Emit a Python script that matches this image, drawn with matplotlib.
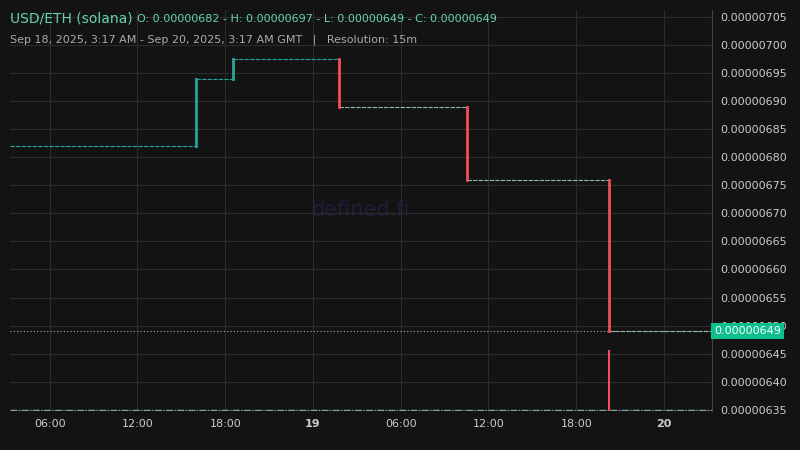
import matplotlib
matplotlib.use('Agg')
import matplotlib.pyplot as plt
import matplotlib.dates as mdates
from datetime import datetime

# step changes (candle times) and price levels
times = ['2025-09-18 03:17', '2025-09-18 16:00', '2025-09-18 18:30', '2025-09-19 01:45',
         '2025-09-19 10:30', '2025-09-19 20:15', '2025-09-20 03:17']
levels = [6.82e-6, 6.94e-6, 6.975e-6, 6.89e-6, 6.76e-6, 6.49e-6, 6.49e-6]
wick_time = '2025-09-19 20:15'
wick_low = 6.455e-6
last_price = 6.49e-6
yticks = [6.35e-6 + i * 0.05e-6 for i in range(15)]

bg = '#131313'
green = '#26a69a'
red = '#f0505a'
t = [datetime.strptime(s, '%Y-%m-%d %H:%M') for s in times]

fig = plt.figure(figsize=(8, 4.5), dpi=100, facecolor=bg)
ax = fig.add_axes([10/800, 39/450, 702/800, 401/450], facecolor=bg)

# flat segments dashed
for i in range(len(t) - 1):
    ax.plot([t[i], t[i+1]], [levels[i], levels[i]], color=green if i < 3 else '#8fb8b0',
            lw=0.8, ls=(0, (4, 1)), zorder=3)
# candles
for i in range(1, len(t) - 1):
    c = green if levels[i] > levels[i-1] else red
    ax.plot([t[i], t[i]], [levels[i-1], levels[i]], color=c, lw=2, zorder=4)
ax.plot([datetime.strptime(wick_time, '%Y-%m-%d %H:%M')] * 2, [6.34e-6, wick_low],
        color=red, lw=1.5, zorder=4)
ax.plot([t[0], t[-1]], [6.35e-6, 6.35e-6], color='#7fa8a0', lw=1, ls=(0, (5, 1, 1, 1)), zorder=3)

ax.axhline(last_price, color='#aaaaaa', lw=0.8, ls=(0, (1, 2)), zorder=2)

ax.set_xlim(t[0], t[-1])
ax.set_ylim(6.348e-6, 7.062e-6)
ax.set_yticks(yticks)
ax.yaxis.tick_right()
ax.set_yticklabels(['%.8f' % v for v in yticks])
ax.xaxis.set_major_locator(mdates.HourLocator(byhour=[0, 6, 12, 18]))
def fmt(x, pos):
    d = mdates.num2date(x)
    return str(d.day) if d.hour == 0 else d.strftime('%H:%M')
ax.xaxis.set_major_formatter(plt.FuncFormatter(fmt))
ax.tick_params(colors='#cccccc', labelsize=8, length=0, pad=6)
ax.grid(color='#2c2c2c', lw=0.8)
for s in ['top', 'left', 'bottom']:
    ax.spines[s].set_visible(False)
ax.spines['right'].set_color('#444444')

fig.canvas.draw()
for lab in ax.get_xticklabels():
    if ':' not in lab.get_text():
        lab.set_fontweight('bold')

ax.text(0.5, 0.5, 'defined.fi', transform=ax.transAxes, color='#1e1e3a', fontsize=15,
        ha='center', va='center', zorder=1)
ax.text(1.003, (last_price - 6.348e-6) / (7.062e-6 - 6.348e-6), '%.8f' % last_price,
        transform=ax.transAxes, color='white', fontsize=8, va='center', ha='left',
        bbox=dict(boxstyle='square,pad=0.25', fc='#0cbf8c', ec='none'), zorder=10)

fig.text(10/800, 1 - 19/450, 'USD/ETH (solana)', color='#66d3b0', fontsize=10, va='center')
fig.text(137/800, 1 - 19/450, 'O: 0.00000682 - H: 0.00000697 - L: 0.00000649 - C: 0.00000649',
         color='#66d3b0', fontsize=8, va='center')
fig.text(10/800, 1 - 40/450, 'Sep 18, 2025, 3:17 AM - Sep 20, 2025, 3:17 AM GMT   |   Resolution: 15m',
         color='#aaaaaa', fontsize=8, va='center')

fig.savefig('out.png', facecolor=bg)
